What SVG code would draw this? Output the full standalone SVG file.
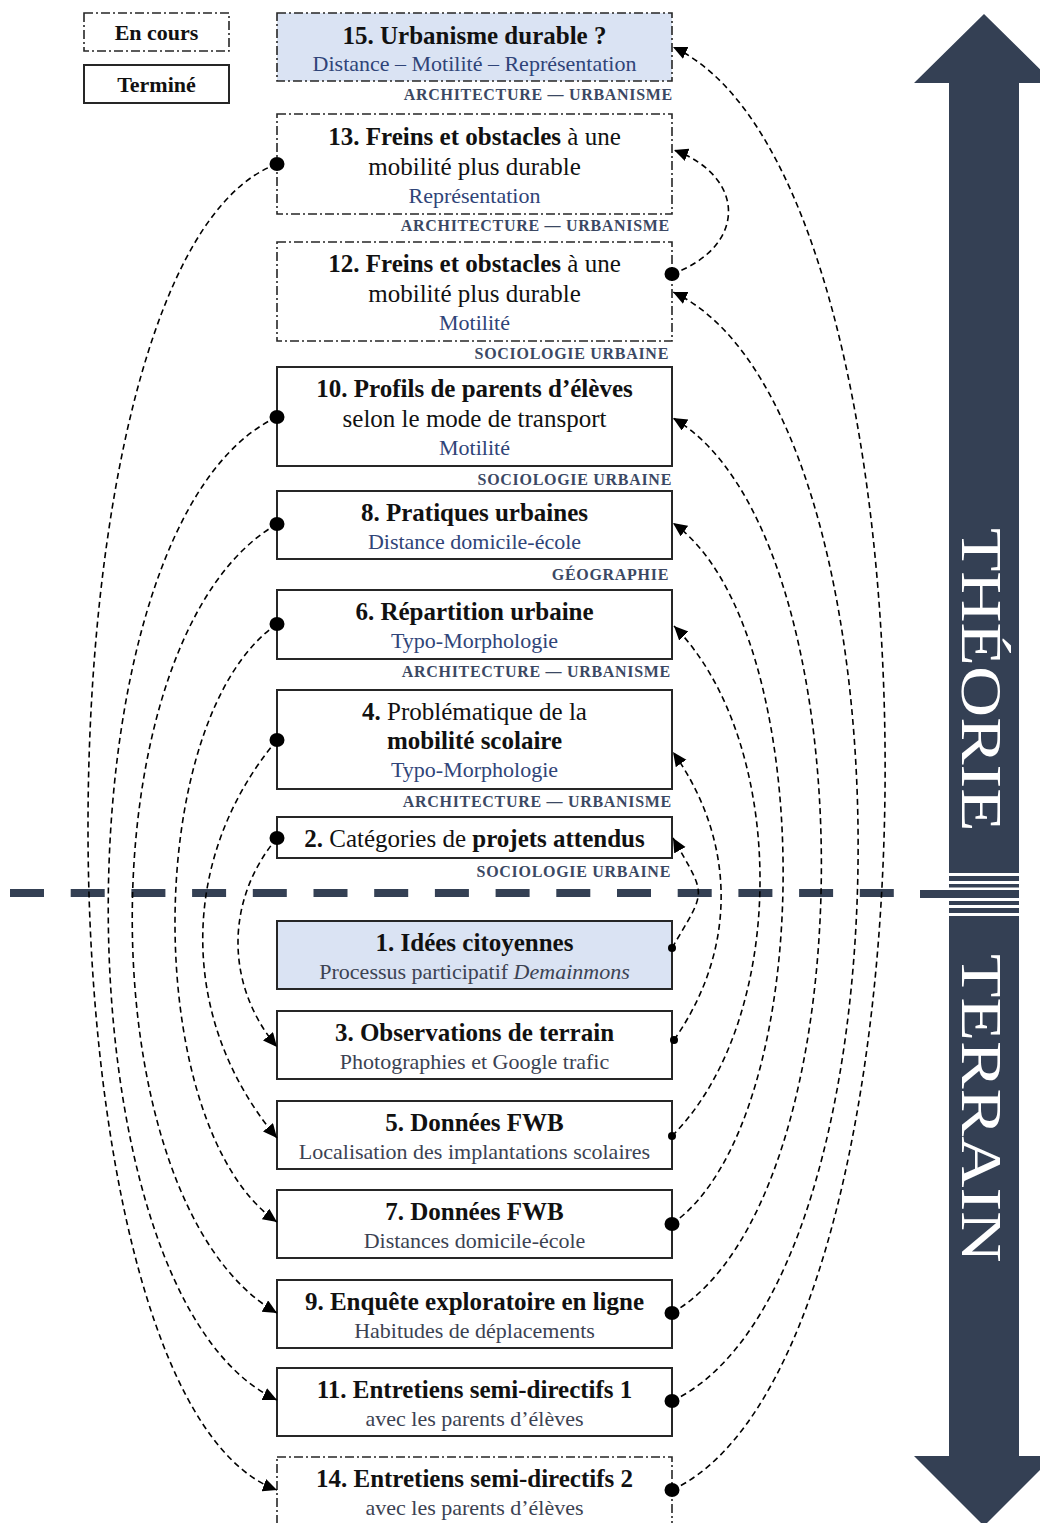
<svg xmlns="http://www.w3.org/2000/svg" width="1040" height="1523" viewBox="0 0 1040 1523">
<style>
text{font-family:"Liberation Serif","Times New Roman",serif;}
.t{font-size:25px;fill:#111;text-anchor:middle;}
.lg{font-size:22px;font-weight:bold;fill:#111;text-anchor:middle;}
.b{font-weight:bold;}
.st{font-size:22px;fill:#2f4478;text-anchor:middle;}
.sg{font-size:22px;fill:#3b4252;text-anchor:middle;}
.lab{font-size:16px;font-weight:bold;fill:#3b4863;text-anchor:end;letter-spacing:0.7px;}
.box{fill:#fff;stroke:#262626;stroke-width:2;}
.fin{fill:#fff;stroke:#262626;stroke-width:1.6;stroke-dasharray:9 3 2 3;}
.blue{fill:#dae3f3;}
.con{fill:none;stroke:#000;stroke-width:1.6;stroke-dasharray:6 4;}
.dk{fill:#344054;}
.ax{font-size:57px;fill:#fff;}
</style>
<defs>
<marker id="arr" markerUnits="userSpaceOnUse" markerWidth="16" markerHeight="14" refX="14" refY="6.5" orient="auto"><path d="M0,0 L14,6.5 L0,13 z" fill="#000"/></marker>
<marker id="dot" markerUnits="userSpaceOnUse" markerWidth="18" markerHeight="18" refX="9" refY="9"><ellipse cx="9" cy="9" rx="7.5" ry="7" fill="#000"/></marker>
<marker id="sdot" markerUnits="userSpaceOnUse" markerWidth="10" markerHeight="10" refX="5" refY="5"><circle cx="5" cy="5" r="4" fill="#000"/></marker>
</defs>

<!-- Big arrow THÉORIE / TERRAIN -->
<g id="axis">
<polygon class="dk" points="984,14 1054,83 1019,83 1019,873 949,873 949,83 914,83"/>
<polygon class="dk" points="949,916 1019,916 1019,1456 1054,1456 984,1526 914,1456 949,1456"/>
<rect class="dk" x="949" y="876" width="70" height="5"/>
<rect class="dk" x="949" y="884" width="70" height="3.5"/>
<rect class="dk" x="920" y="890" width="99" height="8"/>
<rect class="dk" x="949" y="901" width="70" height="4"/>
<rect class="dk" x="949" y="908" width="70" height="5"/>
<text class="ax" transform="translate(962,528) rotate(90) scale(1.245,1)">THÉORIE</text>
<text class="ax" transform="translate(962,954) rotate(90) scale(1.25,1)">TERRAIN</text>
</g>

<!-- Horizontal separator -->
<line x1="10" y1="893" x2="900" y2="893" stroke="#344054" stroke-width="8" stroke-dasharray="34 26.7"/>

<!-- Legend -->
<g id="legend-encours"><rect class="fin" x="84" y="13" width="145" height="38"/><text class="lg" x="156.5" y="40">En cours</text></g>
<g id="legend-termine"><rect class="box" x="84" y="65" width="145" height="38"/><text class="lg" x="156.5" y="92">Terminé</text></g>

<!-- Theory nodes -->
<g id="n15"><rect class="fin blue" x="277" y="13" width="395" height="68"/>
<text class="t b" x="474.5" y="44">15. Urbanisme durable ?</text>
<text class="st" x="474.5" y="71">Distance – Motilité – Représentation</text>
<text class="lab" x="673" y="100">ARCHITECTURE — URBANISME</text></g>

<g id="n13"><rect class="fin" x="277" y="114" width="395" height="100"/>
<text class="t" x="474.5" y="145"><tspan class="b">13. Freins et obstacles</tspan> à une</text>
<text class="t" x="474.5" y="175">mobilité plus durable</text>
<text class="st" x="474.5" y="203">Représentation</text>
<text class="lab" x="670" y="231">ARCHITECTURE — URBANISME</text></g>

<g id="n12"><rect class="fin" x="277" y="242" width="395" height="99"/>
<text class="t" x="474.5" y="272"><tspan class="b">12. Freins et obstacles</tspan> à une</text>
<text class="t" x="474.5" y="302">mobilité plus durable</text>
<text class="st" x="474.5" y="330">Motilité</text>
<text class="lab" x="669" y="359">SOCIOLOGIE URBAINE</text></g>

<g id="n10"><rect class="box" x="277" y="367" width="395" height="99"/>
<text class="t b" x="474.5" y="397">10. Profils de parents d’élèves</text>
<text class="t" x="474.5" y="427">selon le mode de transport</text>
<text class="st" x="474.5" y="455">Motilité</text>
<text class="lab" x="672" y="485">SOCIOLOGIE URBAINE</text></g>

<g id="n8"><rect class="box" x="277" y="491" width="395" height="68"/>
<text class="t b" x="474.5" y="521">8. Pratiques urbaines</text>
<text class="st" x="474.5" y="549">Distance domicile-école</text>
<text class="lab" x="669" y="580">GÉOGRAPHIE</text></g>

<g id="n6"><rect class="box" x="277" y="590" width="395" height="69"/>
<text class="t b" x="474.5" y="620">6. Répartition urbaine</text>
<text class="st" x="474.5" y="648">Typo-Morphologie</text>
<text class="lab" x="671" y="677">ARCHITECTURE — URBANISME</text></g>

<g id="n4"><rect class="box" x="277" y="690" width="395" height="99"/>
<text class="t" x="474.5" y="720"><tspan class="b">4.</tspan> Problématique de la</text>
<text class="t b" x="474.5" y="749">mobilité scolaire</text>
<text class="st" x="474.5" y="777">Typo-Morphologie</text>
<text class="lab" x="672" y="807">ARCHITECTURE — URBANISME</text></g>

<g id="n2"><rect class="box" x="277" y="817" width="395" height="41"/>
<text class="t" x="474.5" y="847"><tspan class="b">2.</tspan> Catégories de <tspan class="b">projets attendus</tspan></text>
<text class="lab" x="671" y="877">SOCIOLOGIE URBAINE</text></g>

<!-- Field nodes -->
<g id="n1"><rect class="box blue" x="277" y="921" width="395" height="68"/>
<text class="t b" x="474.5" y="951">1. Idées citoyennes</text>
<text class="sg" x="474.5" y="979">Processus participatif <tspan font-style="italic">Demainmons</tspan></text></g>

<g id="n3"><rect class="box" x="277" y="1011" width="395" height="68"/>
<text class="t b" x="474.5" y="1041">3. Observations de terrain</text>
<text class="sg" x="474.5" y="1069">Photographies et Google trafic</text></g>

<g id="n5"><rect class="box" x="277" y="1101" width="395" height="68"/>
<text class="t b" x="474.5" y="1131">5. Données FWB</text>
<text class="sg" x="474.5" y="1159">Localisation des implantations scolaires</text></g>

<g id="n7"><rect class="box" x="277" y="1190" width="395" height="68"/>
<text class="t b" x="474.5" y="1220">7. Données FWB</text>
<text class="sg" x="474.5" y="1248">Distances domicile-école</text></g>

<g id="n9"><rect class="box" x="277" y="1280" width="395" height="68"/>
<text class="t b" x="474.5" y="1310">9. Enquête exploratoire en ligne</text>
<text class="sg" x="474.5" y="1338">Habitudes de déplacements</text></g>

<g id="n11"><rect class="box" x="277" y="1368" width="395" height="68"/>
<text class="t b" x="474.5" y="1398">11. Entretiens semi-directifs 1</text>
<text class="sg" x="474.5" y="1426">avec les parents d’élèves</text></g>

<g id="n14"><rect class="fin" x="277" y="1457" width="395" height="72"/>
<text class="t b" x="474.5" y="1487">14. Entretiens semi-directifs 2</text>
<text class="sg" x="474.5" y="1515">avec les parents d’élèves</text></g>

<!-- Connectors -->
<g id="connectors">
<path class="con" marker-start="url(#dot)" marker-end="url(#arr)" d="M277,164 C25,256 25,1398 277,1490"/>
<path class="con" marker-start="url(#dot)" marker-end="url(#arr)" d="M277,417 C52,522 52,1295 277,1400"/>
<path class="con" marker-start="url(#dot)" marker-end="url(#arr)" d="M277,524 C84,635 84,1202 277,1313"/>
<path class="con" marker-start="url(#dot)" marker-end="url(#arr)" d="M277,624 C141,719 141,1127 277,1222"/>
<path class="con" marker-start="url(#dot)" marker-end="url(#arr)" d="M277,740 C178,858 178,1020 277,1138"/>
<path class="con" marker-start="url(#dot)" marker-end="url(#arr)" d="M277,838 C225,900 225,985 277,1047"/>

<path class="con" marker-start="url(#dot)" marker-end="url(#arr)" d="M672,1490 C956,1358 956,179 673,47"/>
<path class="con" marker-start="url(#dot)" marker-end="url(#arr)" d="M672,1401 C920,1285 920,408 673,292"/>
<path class="con" marker-start="url(#dot)" marker-end="url(#arr)" d="M672,1313 C871,1198 871,533 673,418"/>
<path class="con" marker-start="url(#dot)" marker-end="url(#arr)" d="M672,1224 C820,1120 820,627 673,523"/>
<path class="con" marker-start="url(#sdot)" marker-end="url(#arr)" d="M672,1136 C789,1019 789,743 674,626"/>
<path class="con" marker-start="url(#sdot)" marker-end="url(#arr)" d="M674,1040 C737,950 737,842 673,752"/>
<path class="con" marker-start="url(#sdot)" marker-end="url(#arr)" d="M672,948 C707,888 707,898 673,838"/>
<path class="con" marker-start="url(#dot)" marker-end="url(#arr)" d="M672,274 C747,247 747,177 674,150"/>
</g>
</svg>
